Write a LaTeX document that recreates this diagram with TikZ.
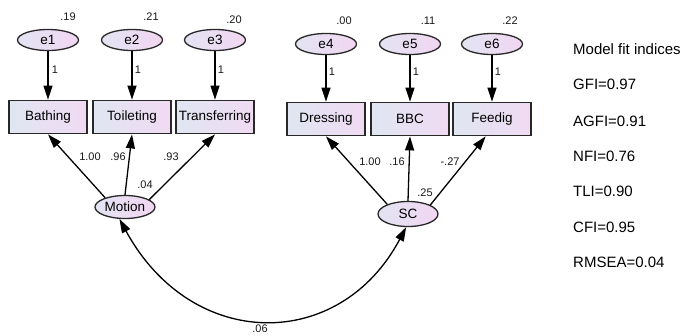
\documentclass[tikz,border=0pt]{standalone}
\usepackage{fontspec}
\setmainfont{Liberation Sans}
\usetikzlibrary{arrows.meta,shapes.geometric}
\definecolor{lavL}{RGB}{226,228,242}
\definecolor{lavR}{RGB}{242,214,242}
\definecolor{boxL}{RGB}{224,230,242}
\definecolor{boxR}{RGB}{240,218,242}
\definecolor{edge}{RGB}{40,40,40}
\begin{document}
\begin{tikzpicture}[x=1pt,y=-1pt,
 lat/.style={ellipse,draw=edge,line width=1.3pt,left color=lavL,right color=lavR,inner sep=0pt,minimum width=61pt,minimum height=21pt,font=\fontsize{13.5}{15}\selectfont},
 obs/.style={rectangle,draw=edge,line width=1.8pt,left color=boxL,right color=boxR,minimum width=78pt,minimum height=33pt,inner sep=0pt,font=\fontsize{13.5}{15}\selectfont},
 arr/.style={-{Triangle[length=14pt,width=9pt]},line width=1.3pt,draw=black},
 darr/.style={{Triangle[length=14pt,width=9pt]}-{Triangle[length=14pt,width=9pt]},line width=1.3pt,draw=black},
 num/.style={font=\fontsize{11}{12}\selectfont,inner sep=0pt,text=black!90},
 fitx/.style={anchor=west,font=\fontsize{15}{17}\selectfont,inner sep=0pt}]
\useasboundingbox (0,0) rectangle (682,335);

% error terms
\node[lat] (e1) at (48,40) {e1};
\node[lat] (e2) at (132,40) {e2};
\node[lat] (e3) at (215,40) {e3};
\node[lat] (e4) at (326,44) {e4};
\node[lat] (e5) at (410,44) {e5};
\node[lat] (e6) at (492,44) {e6};

% observed
\node[obs] (Bathing) at (48,117) {Bathing};
\node[obs] (Toileting) at (132,117) {Toileting};
\node[obs] (Transferring) at (215,117) {Transferring};
\node[obs] (Dressing) at (326,119) {Dressing};
\node[obs] (BBC) at (410,119) {BBC};
\node[obs] (Feedig) at (492,119) {Feedig};

% latent
\node[lat,minimum width=60pt,minimum height=23pt] (Motion) at (125,207) {Motion};
\node[lat,minimum width=60pt,minimum height=25pt] (SC) at (408,214) {SC};

% variances
\node[num] (v1) at (68,17) {.19};
\node[num] (v2) at (151,17) {.21};
\node[num] (v3) at (234,20) {.20};
\node[num] (v4) at (344,21) {.00};
\node[num] (v5) at (428,21) {.11};
\node[num] (v6) at (510,21) {.22};
\node[num] (v7) at (145,185) {.04};
\node[num] (v8) at (425,193) {.25};

% error paths
\draw[arr] (e1.south) -- (Bathing.north);
\draw[arr] (e2.south) -- (Toileting.north);
\draw[arr] (e3.south) -- (Transferring.north);
\draw[arr] (e4.south) -- (Dressing.north);
\draw[arr] (e5.south) -- (BBC.north);
\draw[arr] (e6.south) -- (Feedig.north);
\node[num] (w1) at (55,70) {1};
\node[num] (w2) at (138,70) {1};
\node[num] (w3) at (221,70) {1};
\node[num] (w4) at (332,72) {1};
\node[num] (w5) at (416,72) {1};
\node[num] (w6) at (498,72) {1};

% loadings
\draw[arr] (Motion.155) -- (Bathing.south);
\draw[arr] (Motion.north) -- (Toileting.south);
\draw[arr] (Motion.17) -- (Transferring.south);
\draw[arr] (SC.155) -- (Dressing.south);
\draw[arr] (SC.north) -- (BBC.south);
\draw[arr] (SC.22) -- (Feedig.250);
\node[num] (l1) at (90,157) {1.00};
\node[num] (l2) at (118,157) {.96};
\node[num] (l3) at (171,157) {.93};
\node[num] (l4) at (370,162) {1.00};
\node[num] (l5) at (397,162) {.16};
\node[num] (l6) at (450,162) {-.27};

% covariance
\draw[darr] (Motion.245) .. controls (192,352) and (340,352) .. (SC.262);
\node[num] (cv) at (260,329) {.06};

% fit indices
\node[fitx] (f0) at (573,49) {Model fit indices};
\node[fitx] (f1) at (573,84) {GFI=0.97};
\node[fitx] (f2) at (573,121) {AGFI=0.91};
\node[fitx] (f3) at (573,156) {NFI=0.76};
\node[fitx] (f4) at (573,191) {TLI=0.90};
\node[fitx] (f5) at (573,227) {CFI=0.95};
\node[fitx] (f6) at (573,262) {RMSEA=0.04};
\end{tikzpicture}
\end{document}
